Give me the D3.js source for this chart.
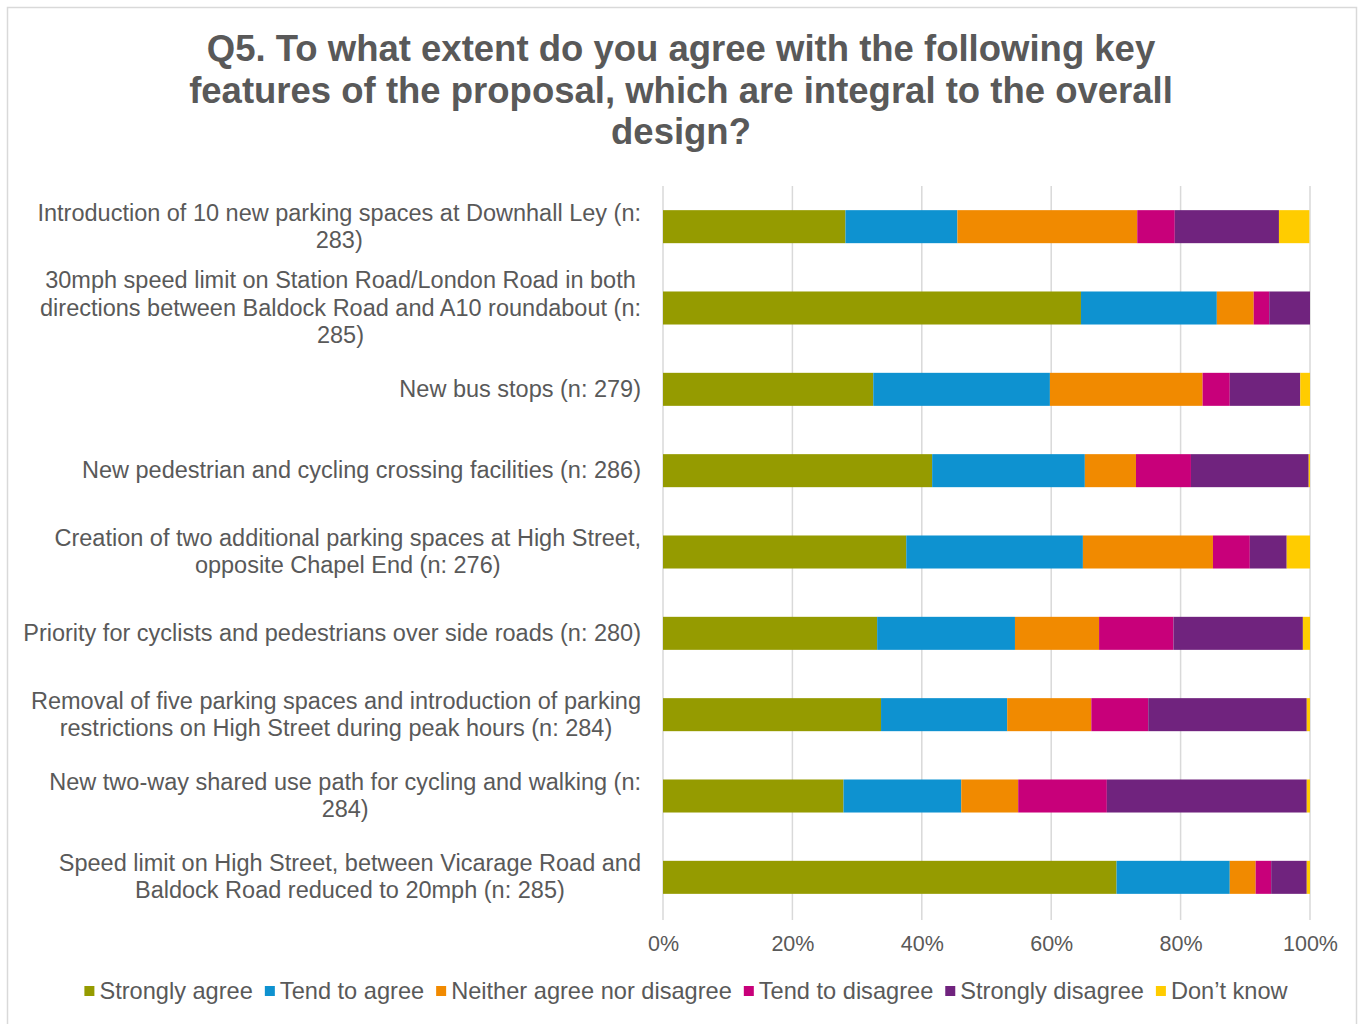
<!DOCTYPE html>
<html>
<head>
<meta charset="utf-8">
<script src="https://cdn.jsdelivr.net/npm/d3@7"></script>
<style>
  html, body { margin: 0; padding: 0; background: #ffffff; }
  svg { display: block; }
  text { font-family: "Liberation Sans", Arial, sans-serif; fill: #595959; }
</style>
</head>
<body>
<svg id="chart" width="1360" height="1024"></svg>
<script>
// Survey items (each label split into its display lines)
const categories = [
  ["Introduction of 10 new parking spaces at Downhall Ley (n:", "283)"],
  ["30mph speed limit on Station Road/London Road in both", "directions between Baldock Road and A10 roundabout (n:", "285)"],
  ["New bus stops (n: 279)"],
  ["New pedestrian and cycling crossing facilities (n: 286)"],
  ["Creation of two additional parking spaces at High Street,", "opposite Chapel End (n: 276)"],
  ["Priority for cyclists and pedestrians over side roads (n: 280)"],
  ["Removal of five parking spaces and introduction of parking", "restrictions on High Street during peak hours (n: 284)"],
  ["New two-way shared use path for cycling and walking (n:", "284)"],
  ["Speed limit on High Street, between Vicarage Road and", "Baldock Road reduced to 20mph (n: 285)"]
];

const seriesNames = ["Strongly agree", "Tend to agree", "Neither agree nor disagree", "Tend to disagree", "Strongly disagree", "Don\u2019t know"];
const seriesColors = ["#959b00", "#0e92d0", "#f18a00", "#c8007a", "#70237e", "#ffcc00"];

// Percentages per item, in category order
const stronglyAgree    = [28.2, 64.6, 32.5, 41.6, 37.6, 33.1, 33.7, 27.9, 70.1];
const tendToAgree      = [17.3, 21.0, 27.3, 23.6, 27.3, 21.3, 19.5, 18.2, 17.5];
const neither          = [27.8,  5.7, 23.6,  7.9, 20.1, 13.0, 13.0,  8.8,  4.0];
const tendToDisagree   = [ 5.8,  2.4,  4.2,  8.5,  5.7, 11.5,  8.8, 13.7,  2.4];
const stronglyDisagree = [16.1,  6.3, 10.9, 18.2,  5.7, 20.0, 24.5, 30.9,  5.5];
const dontKnow         = [ 4.7,  0.0,  1.5,  0.2,  3.6,  1.1,  0.5,  0.5,  0.5];

const tickValues = [0, 20, 40, 60, 80, 100];
const titleLines = [
  "Q5. To what extent do you agree with the following key",
  "features of the proposal, which are integral to the overall",
  "design?"
];

const seriesValues = [stronglyAgree, tendToAgree, neither, tendToDisagree, stronglyDisagree, dontKnow];
const rows = categories.map((c, i) => {
  const r = { idx: i };
  seriesNames.forEach((s, j) => { r[s] = seriesValues[j][i]; });
  return r;
});

const svg = d3.select("#chart");

// Chart frame
svg.append("rect")
  .attr("x", 7.5).attr("y", 7.5)
  .attr("width", 1349).attr("height", 1030)
  .attr("fill", "#ffffff")
  .attr("stroke", "#d9d9d9").attr("stroke-width", 1.5);

// Title
svg.append("g").selectAll("text")
  .data(titleLines)
  .join("text")
  .attr("x", 681)
  .attr("y", (d, i) => 61 + i * 41.5)
  .attr("text-anchor", "middle")
  .attr("font-size", 36.5)
  .attr("font-weight", "bold")
  .text(d => d);

const plot = { left: 663, right: 1310, top: 186, bottom: 918 };

const x = d3.scaleLinear().domain([0, 100]).range([plot.left, plot.right]);
const y = d3.scaleBand()
  .domain(d3.range(categories.length))
  .range([plot.top, plot.bottom])
  .paddingInner(0.594)
  .paddingOuter(0.297);

// Vertical gridlines
svg.append("g").selectAll("line")
  .data(tickValues)
  .join("line")
  .attr("x1", d => x(d)).attr("x2", d => x(d))
  .attr("y1", plot.top).attr("y2", plot.bottom + 2)
  .attr("stroke", "#d9d9d9").attr("stroke-width", 1.5);

// Stacked bars
const stack = d3.stack().keys(seriesNames);
const stacked = stack(rows);

svg.append("g").selectAll("g")
  .data(stacked)
  .join("g")
  .attr("fill", (d, i) => seriesColors[i])
  .selectAll("rect")
  .data(d => d)
  .join("rect")
  .attr("x", d => x(d[0]))
  .attr("width", d => Math.max(0, x(d[1]) - x(d[0])))
  .attr("y", d => y(d.data.idx))
  .attr("height", y.bandwidth());

// X axis tick labels
const xAxis = d3.axisBottom(x)
  .tickValues(tickValues)
  .tickFormat(d => d + "%")
  .tickSize(0)
  .tickPadding(0);
const xg = svg.append("g")
  .attr("transform", `translate(0, ${plot.bottom + 33})`)
  .call(xAxis);
xg.select(".domain").remove();
xg.selectAll("text")
  .attr("font-size", 21.5)
  .attr("font-family", "Liberation Sans, Arial, sans-serif")
  .attr("fill", "#595959")
  .attr("dy", 0);

// Category labels: multi-line blocks, centred within a right-aligned box
const labelRight = 641;
const labelFont = 23.5;
const lineH = 27.3;
const labelG = svg.append("g");
categories.forEach((lines, i) => {
  const cy = y(i) + y.bandwidth() / 2;
  const g = labelG.append("g");
  const texts = g.selectAll("text")
    .data(lines)
    .join("text")
    .attr("font-size", labelFont)
    .attr("text-anchor", "middle")
    .text(d => d);
  let maxW = 0;
  texts.each(function () { maxW = Math.max(maxW, this.getComputedTextLength()); });
  const cx = labelRight - maxW / 2;
  const n = lines.length;
  texts
    .attr("x", cx)
    .attr("y", (d, k) => cy + (k - (n - 1) / 2) * lineH + 7.5);
});

// Legend
const legendG = svg.append("g");
const legendFont = 23.6;
const items = [];
seriesNames.forEach((name, i) => {
  const it = legendG.append("g");
  it.append("rect")
    .attr("x", 0).attr("y", -5).attr("width", 10).attr("height", 10)
    .attr("fill", seriesColors[i]);
  const t = it.append("text")
    .attr("x", 15).attr("y", 8)
    .attr("font-size", legendFont)
    .text(name);
  const w = 15 + t.node().getComputedTextLength();
  items.push({ it, w });
});
const gap = 12;
const totalW = d3.sum(items, d => d.w) + gap * (items.length - 1);
let lx = 686 - totalW / 2;
items.forEach(d => {
  d.it.attr("transform", `translate(${lx}, 991)`);
  lx += d.w + gap;
});
</script>
</body>
</html>
